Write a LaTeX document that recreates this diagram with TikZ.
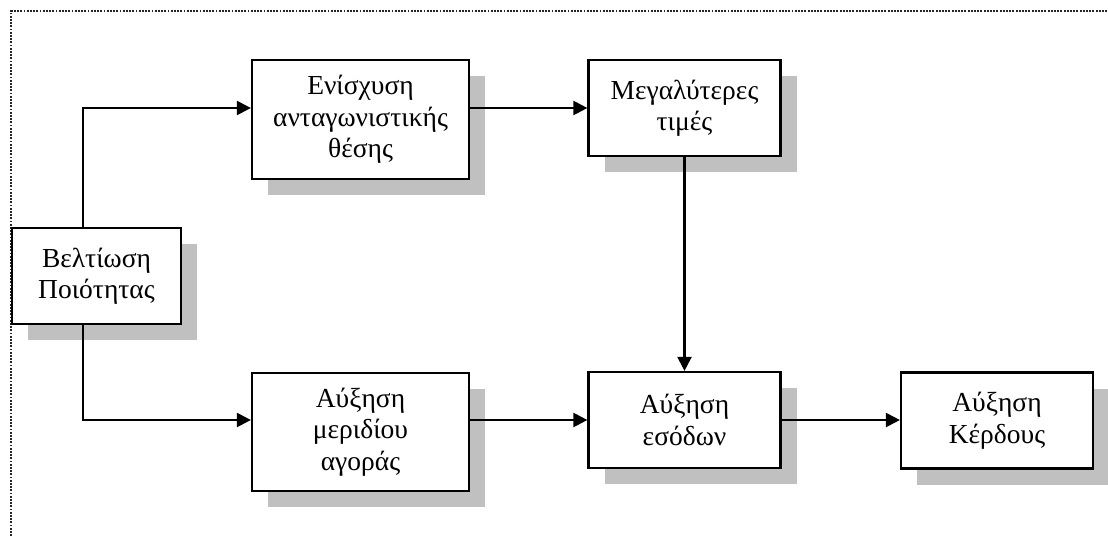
\documentclass[tikz,border=0pt]{standalone}
\usepackage{fontspec}
\setmainfont{Liberation Serif}
\usetikzlibrary{arrows.meta,shadows,calc}
\definecolor{shadowgray}{HTML}{C0C0C0}
\begin{document}
\begin{tikzpicture}[x=1pt,y=-1pt,
  box/.style={draw=black,line width=2.2pt,fill=white,align=center,inner sep=0pt,
    font=\fontsize{27.5}{31.5}\selectfont,
    drop shadow={shadow xshift=16pt,shadow yshift=-16pt,fill=shadowgray,opacity=1,draw=none}},
  arr/.style={line width=2.2pt,-{Triangle[length=14pt,width=14pt]}},
  frame/.style={line width=1.9pt,dash pattern=on 1.9pt off 1.3pt,black!85}]
\useasboundingbox (0,0) rectangle (1108,536);
\draw[frame] (11,536) -- (11,11) -- (1108,11);
\node[box,minimum width=169pt,minimum height=96pt] (bel) at (96.5,276) {Βελτίωση\\Ποιότητας};
\node[box,minimum width=217pt,minimum height=119pt] (enis) at (360.5,119.5) {Ενίσχυση\\ανταγωνιστικής\\θέσης};
\node[box,minimum width=192pt,minimum height=96pt] (meg) at (684.5,108) {Μεγαλύτερες\\τιμές};
\node[box,minimum width=217pt,minimum height=118pt] (mer) at (360.5,432) {Αύξηση\\μεριδίου\\αγοράς};
\node[box,minimum width=192pt,minimum height=96pt] (eso) at (684.5,420) {Αύξηση\\εσόδων};
\node[box,minimum width=192pt,minimum height=96pt] (ker) at (997,420.5) {Αύξηση\\Κέρδους};
\draw[arr] ($(bel.north west)+(72,0)$) |- (enis.west |- meg.west);
\draw[arr] ($(bel.south west)+(72,0)$) |- (mer.west |- eso.west);
\draw[arr] (enis.east |- meg.west) -- (meg.west);
\draw[arr] (meg.south) -- (eso.north);
\draw[arr] (mer.east |- eso.west) -- (eso.west);
\draw[arr] (eso.east) -- (ker.west |- eso.east);
\end{tikzpicture}
\end{document}
